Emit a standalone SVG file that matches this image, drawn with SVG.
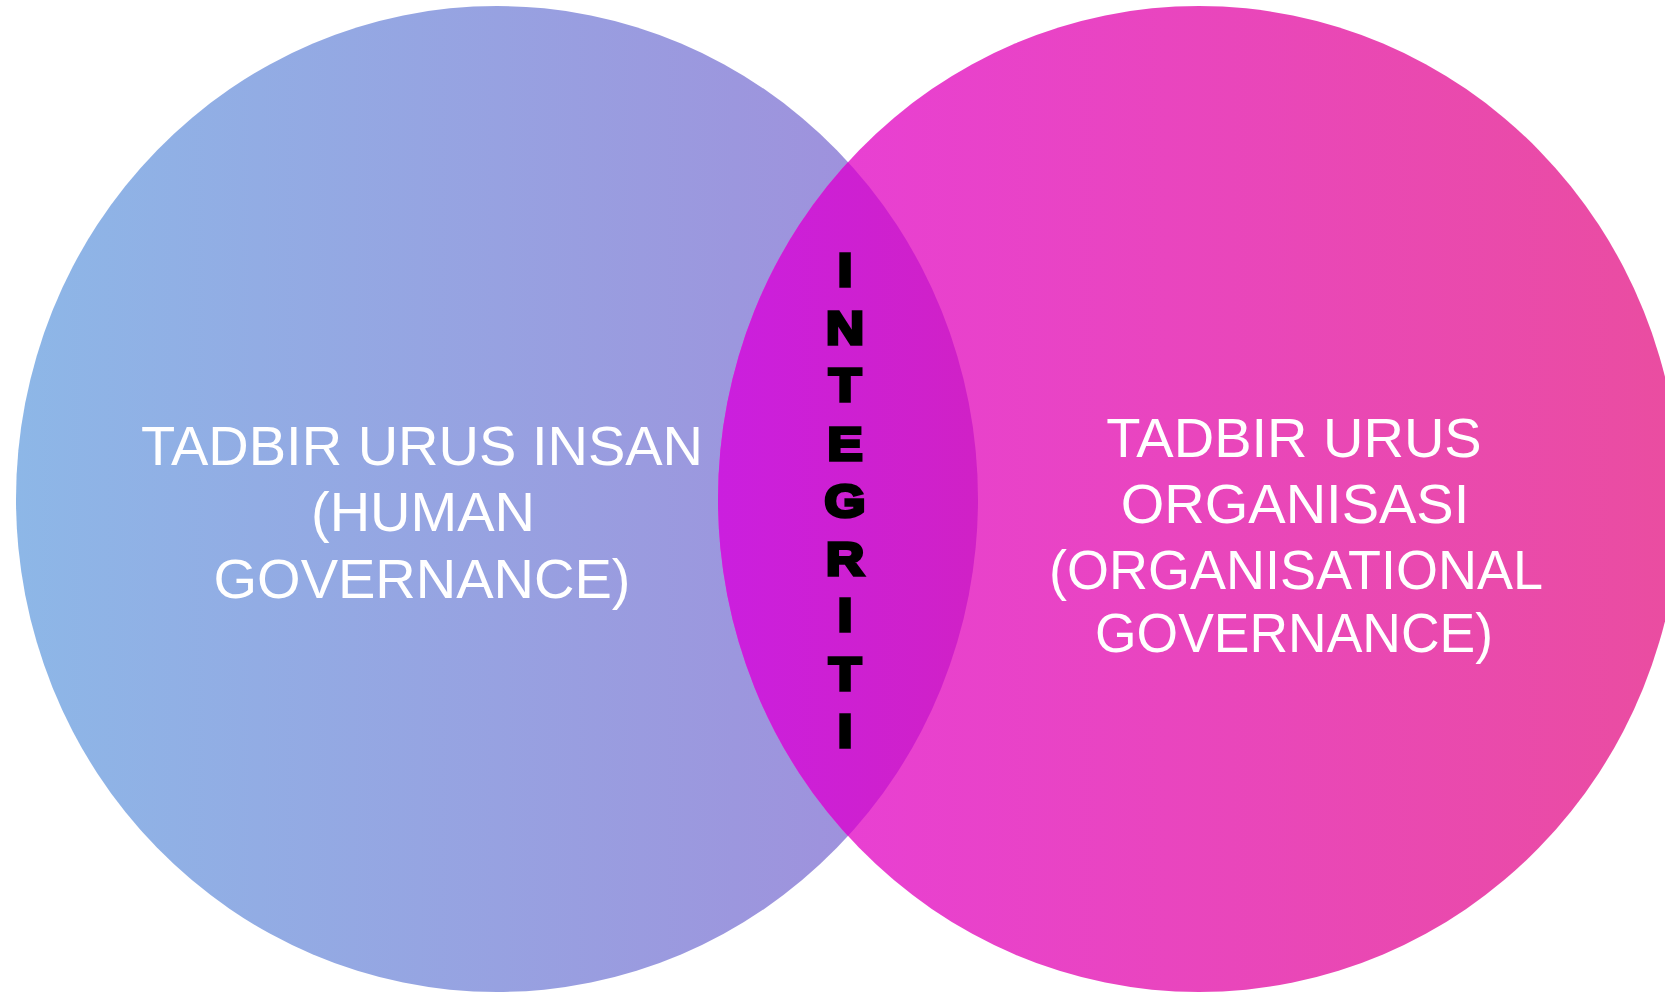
<svg xmlns="http://www.w3.org/2000/svg" width="1665" height="993" viewBox="0 0 1665 993">
<defs>
<linearGradient id="gl" gradientUnits="userSpaceOnUse" x1="16" y1="0" x2="978" y2="0">
<stop offset="0" stop-color="#8DB7E7"/><stop offset="1" stop-color="#A18CDB"/>
</linearGradient>
<linearGradient id="gr" gradientUnits="userSpaceOnUse" x1="718" y1="0" x2="1680" y2="0">
<stop offset="0" stop-color="#E83EDA"/><stop offset="1" stop-color="#EA4DA0"/>
</linearGradient>
<linearGradient id="gm" gradientUnits="userSpaceOnUse" x1="718" y1="0" x2="978" y2="0">
<stop offset="0" stop-color="#CB1FDE"/><stop offset="1" stop-color="#D021C6"/>
</linearGradient>
<clipPath id="clipL"><ellipse cx="497" cy="499" rx="481" ry="493"/></clipPath>
<style>
.lbl{font-family:"Liberation Sans",Arial,sans-serif;font-size:56px;fill:#FFFFFF;text-anchor:middle}
.vt{font-family:"Liberation Sans",Arial,sans-serif;font-size:47px;font-weight:bold;fill:#000000;stroke:#000000;stroke-width:3.5;stroke-linejoin:miter;text-anchor:middle}
</style>
</defs>
<rect width="1665" height="993" fill="#FFFFFF"/>
<g id="human">
<ellipse cx="497" cy="499" rx="481" ry="493" fill="url(#gl)"/>
</g>
<g id="organisational">
<ellipse cx="1199" cy="499" rx="481" ry="493" fill="url(#gr)"/>
</g>
<g id="overlap">
<ellipse cx="1199" cy="499" rx="481" ry="493" fill="url(#gm)" clip-path="url(#clipL)"/>
</g>
<g id="human-label">
<text class="lbl" x="422" y="465">TADBIR URUS INSAN</text>
<text class="lbl" x="423" y="531">(HUMAN</text>
<text class="lbl" x="422" y="598">GOVERNANCE)</text>
</g>
<g id="organisational-label">
<text class="lbl" x="1294" y="457">TADBIR URUS</text>
<text class="lbl" x="1295" y="523">ORGANISASI</text>
<text class="lbl" x="1296" y="589" textLength="494" lengthAdjust="spacingAndGlyphs">(ORGANISATIONAL</text>
<text class="lbl" x="1294" y="652" textLength="398" lengthAdjust="spacingAndGlyphs">GOVERNANCE)</text>
</g>
<g id="integriti" transform="translate(845,0) scale(1.12,1)">
<text class="vt" x="0" y="286">I</text>
<text class="vt" x="0" y="344">N</text>
<text class="vt" x="0" y="401">T</text>
<text class="vt" x="0" y="460">E</text>
<text class="vt" x="0" y="517">G</text>
<text class="vt" x="0" y="575">R</text>
<text class="vt" x="0" y="631">I</text>
<text class="vt" x="0" y="690">T</text>
<text class="vt" x="0" y="747">I</text>
</g>
<g id="connectors"></g>
</svg>
